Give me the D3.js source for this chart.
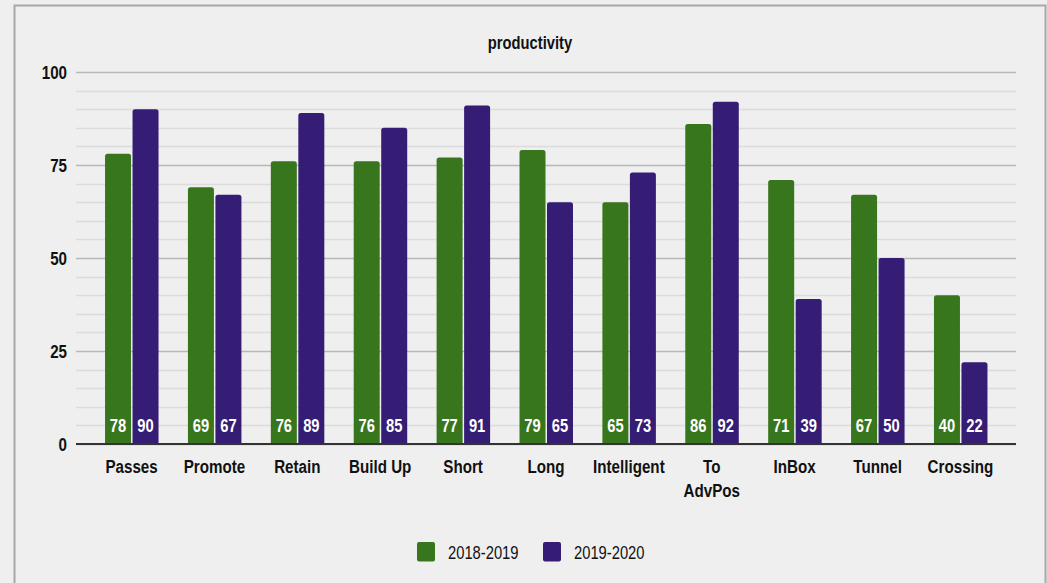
<!DOCTYPE html>
<html>
<head>
<meta charset="utf-8">
<script src="https://cdn.jsdelivr.net/npm/d3@7"></script>
<style>
html,body{margin:0;padding:0;background:#efefef;}
svg{display:block;font-family:"Liberation Sans",Arial,sans-serif;}
</style>
</head>
<body>
<svg id="chart" width="1047" height="583"></svg>
<script>
const categories = ["Passes","Promote","Retain","Build Up","Short","Long","Intelligent","To AdvPos","InBox","Tunnel","Crossing"];
const series2018 = [78,69,76,76,77,79,65,86,71,67,40];
const series2019 = [90,67,89,85,91,65,73,92,39,50,22];
const seriesNames = ["2018-2019","2019-2020"];
const seriesColors = ["#38761d","#351c75"];
const yTicks = [0,25,50,75,100];
const chartTitle = "productivity";

const SX = 0.82; // narrow look
const svg = d3.select("#chart");
const W = 1047, H = 583;
const m = {left:76, right:1016, top:72, bottom:444};

svg.append("rect").attr("x",0).attr("y",0).attr("width",W).attr("height",H).attr("fill","#efefef");
svg.append("rect").attr("x",14.5).attr("y",5.5).attr("width",1031).attr("height",600)
  .attr("fill","#efefef").attr("stroke","#a8a8a8").attr("stroke-width",2);

const y = d3.scaleLinear().domain([0,100]).range([m.bottom,m.top]);
const x = d3.scalePoint().domain(categories).range([m.left,m.right]).padding(0.67);

function narrowText(sel, tx, ty){
  return sel.append("text").attr("transform",`translate(${tx},${ty}) scale(${SX},1)`);
}

// minor gridlines
const minor = d3.range(0,101,5).filter(v=>v%25!==0);
svg.append("g").selectAll("line").data(minor).join("line")
  .attr("x1",m.left).attr("x2",m.right)
  .attr("y1",d=>Math.round(y(d))+0.5).attr("y2",d=>Math.round(y(d))+0.5)
  .attr("stroke","#dcdcdc").attr("stroke-width",1.5);

// major gridlines + labels via axis
const yAxis = d3.axisLeft(y).tickValues(yTicks).tickSize(-(m.right-m.left)).tickPadding(10);
const gy = svg.append("g").attr("transform",`translate(${m.left},0)`).call(yAxis);
gy.select(".domain").remove();
gy.selectAll(".tick line").attr("stroke","#b8b8b8").attr("stroke-width",1.5);
gy.selectAll(".tick text").attr("fill","#111").attr("font-size","18.5px").attr("font-weight","bold")
  .attr("font-family","'Liberation Sans',Arial,sans-serif")
  .attr("x",0).attr("dy","0.36em").attr("transform",`translate(-9,0) scale(${SX},1)`);

// bars
const bw = 26;
const data = categories.map((c,i)=>({c, vals:[series2018[i],series2019[i]]}));
const groups = svg.append("g").selectAll("g").data(data).join("g");
function barPath(x0,y0,w,h,r){
  return `M${x0},${y0+h}V${y0+r}Q${x0},${y0} ${x0+r},${y0}H${x0+w-r}Q${x0+w},${y0} ${x0+w},${y0+r}V${y0+h}Z`;
}
groups.each(function(d){
  const g = d3.select(this);
  d.vals.forEach((v,k)=>{
    const x0 = x(d.c) + (k===0 ? -bw-0.5 : 1);
    const y0 = y(v);
    g.append("path").attr("d",barPath(x0,y0,bw,y(0)-y0,2.5)).attr("fill",seriesColors[k]);
    narrowText(g, x0+bw/2, 432).attr("text-anchor","middle")
      .attr("fill","#fff").attr("font-size","18px").attr("font-weight","bold")
      .text(v);
  });
});

// baseline
svg.append("line").attr("x1",m.left).attr("x2",m.right).attr("y1",y(0)).attr("y2",y(0))
  .attr("stroke","#333").attr("stroke-width",2);

// x labels
const xg = svg.append("g");
categories.forEach(d=>{
  const parts = d==="To AdvPos" ? ["To","AdvPos"] : [d];
  const t = narrowText(xg, x(d), 473).attr("text-anchor","middle")
    .attr("font-size","18.5px").attr("font-weight","bold").attr("fill","#111");
  parts.forEach((p,i)=>t.append("tspan").attr("x",0).attr("dy",i===0?0:24).text(p));
});

// title
narrowText(svg, 530, 49).attr("text-anchor","middle")
  .attr("font-size","18px").attr("font-weight","bold").attr("fill","#111").text(chartTitle);

// legend
const leg = svg.append("g");
const legX = [417,543];
seriesNames.forEach((n,k)=>{
  leg.append("rect").attr("x",legX[k]).attr("y",542).attr("width",18).attr("height",19.5).attr("rx",2)
    .attr("fill",seriesColors[k]);
  narrowText(leg, legX[k]+31, 559).attr("font-size","18px").attr("fill","#111").text(n);
});
</script>
</body>
</html>
